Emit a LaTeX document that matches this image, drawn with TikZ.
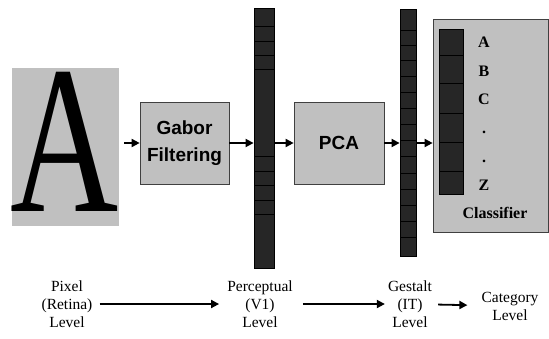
\documentclass[tikz,border=0pt]{standalone}
\usepackage{fontspec}
\setmainfont{Liberation Serif}
\newfontfamily\boxfont{Liberation Sans}
\usetikzlibrary{arrows.meta}

\definecolor{panelgray}{HTML}{C0C0C0}
\definecolor{unitdark}{HTML}{262626}

\begin{document}
\begin{tikzpicture}[x=1pt,y=-1pt,
  graybox/.style={draw=black!75,fill=panelgray,line width=0.7pt,inner sep=0pt},
  featbar/.style={draw=black,fill=unitdark,line width=0.8pt,inner sep=0pt},
  cut/.style={fill=black},
  flow/.style={-{Triangle[length=8pt,width=8pt]},line width=1.8pt},
  boxtext/.style={font=\boxfont\bfseries\fontsize{19}{27}\selectfont,align=center},
  level/.style={font=\fontsize{15.5}{18}\selectfont,align=center,inner sep=0pt},
  catletter/.style={font=\bfseries\fontsize{16}{18}\selectfont,inner sep=0pt}]
\useasboundingbox (0,0) rectangle (549,338);

% input image
\node[fill=panelgray,minimum width=107pt,minimum height=158pt,inner sep=0pt] (retina) at (65.5,147) {};
\node[inner sep=0pt] (glyph) at (64.5,142) {\scalebox{0.71}[1]{\fontsize{211}{211}\selectfont A}};
\coordinate (input) at (124,143);

% processing stages
\node[graybox,boxtext,minimum width=89pt,minimum height=82pt] (gabor) at (184.5,143) {Gabor\\Filtering};
\node[featbar,minimum width=20pt,minimum height=260pt] (v1) at (264,138) {};
\foreach \y in {26,41,55,69,156,171,185,200,214}
  \fill[cut] (v1.west |- 0,\y) rectangle (v1.east |- 0,\y+1.2);
\node[graybox,boxtext,minimum width=90pt,minimum height=82pt] (pca) at (339,143) {PCA};
\node[featbar,minimum width=16pt,minimum height=247pt] (it) at (408,132.5) {};
\foreach \y in {30,45,60,76,92,108,124,140,156,173,189,205,221,237}
  \fill[cut] (it.west |- 0,\y) rectangle (it.east |- 0,\y+1.2);

% classifier
\node[graybox,minimum width=115pt,minimum height=213pt] (cls) at (490.5,125.5) {};
\node[featbar,minimum width=24pt,minimum height=165pt] (out) at (451,111.5) {};
\foreach \y in {55,83,113,142,171}
  \fill[cut] (out.west |- 0,\y) rectangle (out.east |- 0,\y+1.2);
\foreach \t/\y [count=\i] in {A/42,B/71,C/99,./132,./161,Z/185}
  \node[catletter] (cat\i) at (484,\y) {\t};
\node[catletter] (clsname) at (495,213) {Classifier};

\draw[flow] (input) -- (gabor.west);
\draw[flow] (gabor.east) -- (gabor.east -| v1.west);
\draw[flow] (pca.west -| v1.east) -- (pca.west);
\draw[flow] (pca.east) -- (pca.east -| it.west);
\draw[flow] (pca.east -| it.east) -- (pca.east -| cls.west);

% levels
\node[level] (pixel) at (67,304) {Pixel\\(Retina)\\Level};
\node[level] (perc) at (260,304) {Perceptual\\(V1)\\Level};
\node[level] (gestalt) at (410,304) {Gestalt\\(IT)\\Level};
\node[level] (category) at (510,306) {Category\\Level};

\draw[flow,shorten <=7pt,shorten >=8pt] (pixel) -- (perc);
\draw[flow,shorten <=10pt,shorten >=3pt] (perc) -- (gestalt);
\draw[flow,shorten <=6pt,shorten >=14pt] (gestalt) -- (category);
\end{tikzpicture}
\end{document}
